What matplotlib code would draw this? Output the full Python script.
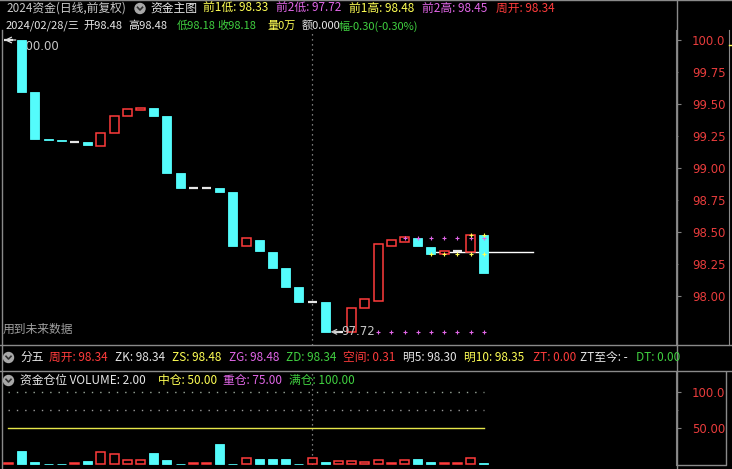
import matplotlib
matplotlib.use("Agg")
import matplotlib.pyplot as plt
from matplotlib.patches import Rectangle, Circle
from matplotlib.ticker import FixedLocator, FuncFormatter, NullFormatter

# ---------------- data ----------------
opens = [100.00, 100.00, 99.59, 99.23, 99.215, 99.20, 99.20, 99.17, 99.27, 99.41,
         99.45, 99.47, 99.41, 98.96, 98.84, 98.84, 98.84, 98.81, 98.39, 98.44,
         98.34, 98.22, 98.07, 97.95, 97.95, 97.72, 97.72, 97.91, 97.96, 98.39,
         98.42, 98.45, 98.38, 98.33, 98.35, 98.34, 98.48]
closes = [100.00, 99.59, 99.23, 99.22, 99.21, 99.20, 99.18, 99.27, 99.41, 99.46,
          99.47, 99.41, 98.96, 98.84, 98.84, 98.84, 98.81, 98.39, 98.45, 98.35,
          98.22, 98.07, 97.95, 97.95, 97.72, 97.72, 97.91, 97.98, 98.41, 98.44,
          98.46, 98.39, 98.33, 98.35, 98.35, 98.48, 98.18]
volume = [1.4, 18.5, 2.8, 0.5, 0.5, 1.4, 4.2, 16.7, 13.9, 5.6,
          5.6, 15.3, 5.6, 0.5, 1.4, 1.4, 27.8, 0.5, 8.3, 6.9,
          6.9, 6.9, 0.5, 8.3, 2.8, 4.2, 4.2, 2.8, 5.6, 1.4,
          5.6, 6.9, 2.8, 1.4, 1.4, 8.3, 2.0]

prev1_low, prev2_low, prev1_high, prev2_high, week_open = 98.33, 97.72, 98.48, 98.45, 98.34
prev2_high_from, prev2_low_from, prev1_low_from, prev1_high_from = 30, 28, 32, 35
week_start = 32
month_sep = 23
hi_idx, lo_idx = 0, 24

price_ticks_major = [98.0, 98.5, 99.0, 99.5, 100.0]
price_ticks_minor = [98.25, 98.75, 99.25, 99.75]
pos_levels = {"mid": 50.0, "heavy": 75.0, "full": 100.0}

# ---------------- style ----------------
W, H = 732, 469
BG = "black"
CYAN = "#54fcfc"
RED = "#ff3c3c"
AXRED = "#e83c3c"
YEL = "#ffff54"
PUR = "#e066e6"
GRN = "#40d040"
WHT = "#e6e6e6"
GRY = "#808080"
FONT = ["Noto Sans CJK SC", "DejaVu Sans"]
plt.rcParams["font.family"] = FONT

fig = plt.figure(figsize=(W / 100, H / 100), dpi=100, facecolor=BG)

def px_axes(x0, y0, x1, y1):
    return fig.add_axes([x0 / W, (H - y1) / H, (x1 - x0) / W, (y1 - y0) / H])

n = len(opens)
step = 13.2
xa = -8.5 / step
xb = xa + 676 / step
bw = 0.68

# ---------------- main panel ----------------
ax = px_axes(0, 30, 676, 345)
ax.set_facecolor(BG)
ax.set_xlim(xa, xb)
ax.set_ylim(100 - 305 / 128, 100 + 10 / 128)
for s in ["top", "left", "bottom"]:
    ax.spines[s].set_visible(False)
ax.spines["right"].set_color(GRY)
ax.set_xticks([])
ax.yaxis.tick_right()
ax.yaxis.set_major_locator(FixedLocator(price_ticks_major))
ax.yaxis.set_minor_locator(FixedLocator(price_ticks_minor))
fmt = FuncFormatter(lambda v, p: f"{v:.1f}" if v >= 100 else f"{v:.2f}")
ax.yaxis.set_major_formatter(fmt)
ax.yaxis.set_minor_formatter(fmt)
ax.tick_params(axis="y", which="major", length=3.6, color=GRY, labelcolor=AXRED, labelsize=8.5, pad=8)
ax.tick_params(axis="y", which="minor", length=1.5, color=GRY, labelcolor=AXRED, labelsize=8.5, pad=10.1)
for lab in ax.get_yticklabels(which="both"):
    lab.set_family("DejaVu Sans")

# month separator
ax.axvline(month_sep, color="#a0a0a0", lw=0.9, ls=(0, (1, 3)), zorder=1)

for i, (o, c) in enumerate(zip(opens, closes)):
    if c > o:
        ax.add_patch(Rectangle((i - bw / 2, o), bw, c - o, fc=BG, ec=RED, lw=1.1, zorder=3))
    elif c < o:
        ax.add_patch(Rectangle((i - bw / 2, c), bw, o - c, fc=CYAN, ec=CYAN, lw=0.6, zorder=3))
    else:
        ax.plot([i - bw / 2, i + bw / 2], [o, o], color=WHT, lw=1.6, zorder=3, solid_capstyle="butt")

# reference markers
xs = list(range(prev2_high_from, n))
ax.scatter(xs, [prev2_high] * len(xs), marker="+", s=10, color=PUR, lw=0.8, zorder=4)
xs = list(range(prev2_low_from, n))
ax.scatter(xs, [prev2_low] * len(xs), marker="+", s=10, color=PUR, lw=0.8, zorder=4)
xs = list(range(prev1_low_from, n))
ax.scatter(xs, [prev1_low] * len(xs), marker="+", s=10, color=YEL, lw=0.8, zorder=4)
xs = list(range(prev1_high_from, n))
ax.scatter(xs, [prev1_high] * len(xs), marker="+", s=10, color=YEL, lw=0.8, zorder=4)

# week open line
ax.plot([week_start + 0.35, week_start + 7.7], [week_open, week_open], color="white", lw=1.0, zorder=2)

# high / low labels
ax.text(hi_idx + 0.8, max(opens), f"{max(opens):.2f}", color="#c8c8c8", fontsize=8.5,
        ha="left", va="top", family="DejaVu Sans", zorder=2)
ax.annotate("", xy=(hi_idx - 0.3, max(opens)), xytext=(hi_idx + 0.55, max(opens)),
            arrowprops=dict(arrowstyle="->", color="#e0e0e0", lw=0.9, shrinkA=0, shrinkB=0), zorder=5)
ax.annotate(f"{closes[lo_idx]:.2f}", xy=(lo_idx + 0.4, closes[lo_idx]), xytext=(8, 0),
            textcoords="offset points", color="#c8c8c8", fontsize=8.5, va="center", ha="left",
            family="DejaVu Sans",
            arrowprops=dict(arrowstyle="->", color="#c8c8c8", lw=0.9, shrinkA=0, shrinkB=0), zorder=5)

# ---------------- lower panel ----------------
bx = px_axes(0, 372, 676, 465)
bx.set_facecolor(BG)
bx.set_xlim(xa, xb)
bx.set_ylim((464.3 - 465) / 0.72, (464.3 - 372) / 0.72)
for s in ["top", "left", "bottom"]:
    bx.spines[s].set_visible(False)
bx.spines["right"].set_color(GRY)
bx.set_xticks([])
bx.yaxis.tick_right()
bx.yaxis.set_major_locator(FixedLocator([pos_levels["mid"], pos_levels["full"]]))
bx.yaxis.set_minor_locator(FixedLocator([pos_levels["heavy"]]))
bx.yaxis.set_major_formatter(FuncFormatter(lambda v, p: f"{v:.1f}" if v >= 100 else f"{v:.2f}"))
bx.yaxis.set_minor_formatter(NullFormatter())
bx.tick_params(axis="y", which="major", length=3.6, color=GRY, labelcolor=AXRED, labelsize=8.5, pad=8)
bx.tick_params(axis="y", which="minor", length=1.5, color=GRY)
for lab in bx.get_yticklabels():
    lab.set_family("DejaVu Sans")

bx.axvline(month_sep, color="#a0a0a0", lw=0.9, ls=(0, (1, 3)), zorder=1)
bx.plot([0, n - 1], [pos_levels["mid"]] * 2, color="#e6e64a", lw=1.0, zorder=2)
bx.plot([0, n - 1], [pos_levels["full"]] * 2, color="#9aa89a", lw=1.0, ls=(0, (1, 5)), zorder=2)
bx.plot([0, n - 1], [pos_levels["heavy"]] * 2, color="#9a9a9a", lw=1.0, ls=(0, (1, 5)), zorder=2)

for i, v in enumerate(volume):
    if closes[i] >= opens[i]:
        bx.add_patch(Rectangle((i - bw / 2, 0), bw, v, fc=BG, ec=RED, lw=1.1, zorder=3))
    else:
        bx.add_patch(Rectangle((i - bw / 2, 0), bw, v, fc=CYAN, ec=CYAN, lw=0.6, zorder=3))

# ---------------- overlay (frame + texts) ----------------
ov = fig.add_axes([0, 0, 1, 1])
ov.set_xlim(0, W)
ov.set_ylim(H, 0)
ov.axis("off")
ov.patch.set_alpha(0)

LC = "#8a8a8a"
ov.plot([0, W], [0.5, 0.5], color=LC, lw=1)
ov.plot([676.5, 676.5], [0, H], color=LC, lw=1)
ov.plot([0, W], [345.5, 345.5], color=LC, lw=1)
ov.plot([0, W], [371.5, 371.5], color=LC, lw=1)
ov.plot([1.5, 1.5], [30, H], color=LC, lw=1)
ov.plot([729, 729], [30, 345], color=LC, lw=0.8)
ov.plot([676.5, 725.5, 725.5], [465.5, 465.5, 372], color=LC, lw=1)
ov.plot([729, 732], [45, 45], color=YEL, lw=1)

def icon(x, y):
    ov.add_patch(Circle((x, y), 5, color="#a8a8a8", zorder=5))
    ov.plot([x - 2.5, x, x + 2.5], [y - 1.2, y + 1.5, y - 1.2], color="#303030", lw=1.2, zorder=6)

def t(x, y, s, c, fs=8.5):
    ov.text(x, y, s, color=c, fontsize=fs, ha="left", va="center", family=FONT)

# row 1
r1 = 8.5
t(6, r1, "2024资金(日线,前复权)", "#c8c8c8")
icon(140, r1)
t(150, r1, "资金主图", WHT)
t(203, r1, f"前1低: {prev1_low:.2f}", YEL)
t(276, r1, f"前2低: {prev2_low:.2f}", PUR)
t(349, r1, f"前1高: {prev1_high:.2f}", YEL)
t(422, r1, f"前2高: {prev2_high:.2f}", PUR)
t(496, r1, f"周开: {week_open:.2f}", RED)

# row 2
r2 = 26
f2 = 8
t(6, r2, "2024/02/28/三", WHT, f2)
t(83, r2, f"开{opens[-1]:.2f}", WHT, f2)
t(128, r2, f"高{max(opens[-1], closes[-1]):.2f}", WHT, f2)
t(177, r2, f"低{min(opens[-1], closes[-1]):.2f}", GRN, f2)
t(217, r2, f"收{closes[-1]:.2f}", GRN, f2)
t(267, r2, "量0万", YEL, f2)
t(302, r2, "额0.000", WHT, f2)
chg = closes[-1] - closes[-2]
t(338, r2, f"幅{chg:.2f}({chg / closes[-2] * 100:.2f}%)", GRN, f2)

t(3, 329, "用到未来数据", "#a0a0a0")

# row 分五
r3 = 357.5
icon(8.5, r3)
t(20, r3, "分五", WHT)
t(49, r3, f"周开: {week_open:.2f}", RED)
t(115, r3, "ZK: 98.34", WHT)
t(172, r3, "ZS: 98.48", YEL)
t(229, r3, "ZG: 98.48", PUR)
t(286, r3, "ZD: 98.34", GRN)
t(343, r3, "空间: 0.31", RED)
t(403, r3, "明5: 98.30", WHT)
t(464, r3, "明10: 98.35", YEL)
t(533, r3, "ZT: 0.00", RED)
t(580, r3, "ZT至今: -", WHT)
tt = ov.text(636, r3, "DT: 0.00", color=GRN, fontsize=8.5, ha="left", va="center", family=FONT)
tt.set_clip_path(Rectangle((0, 0), 676, H, transform=ov.transData))

# row 资金仓位
r4 = 380.5
icon(8.5, r4)
t(20, r4, f"资金仓位 VOLUME: {volume[-1]:.2f}", WHT)
t(158, r4, f"中仓: {pos_levels['mid']:.2f}", YEL)
t(223, r4, f"重仓: {pos_levels['heavy']:.2f}", PUR)
t(289, r4, f"满仓: {pos_levels['full']:.2f}", GRN)

fig.savefig("out.png", dpi=100, facecolor=BG)
